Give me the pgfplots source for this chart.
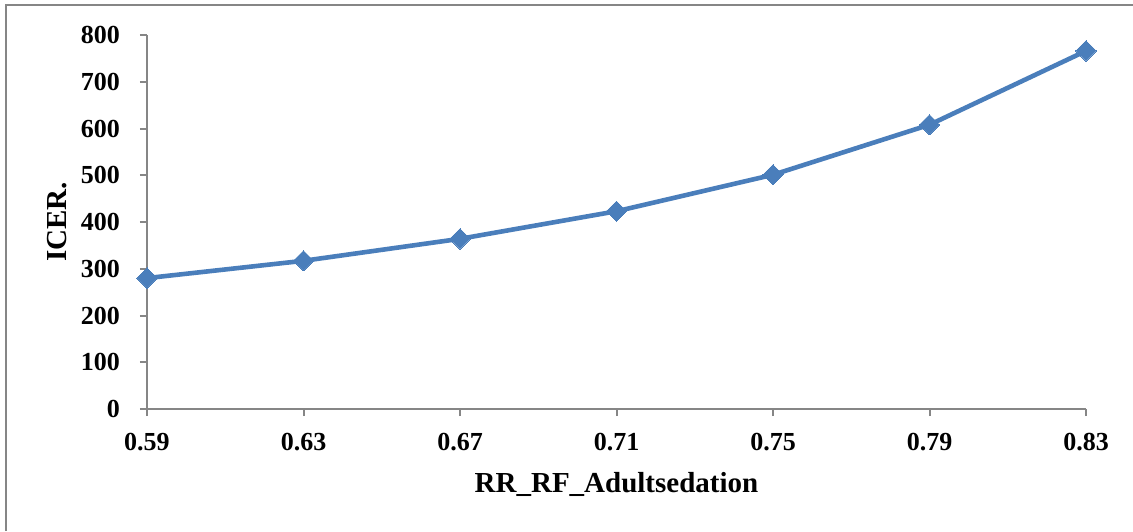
\documentclass[border=0pt]{standalone}
\usepackage{fontspec}
\setmainfont{Liberation Serif}
\usepackage{pgfplots}
\pgfplotsset{compat=1.18}
\definecolor{lineblue}{RGB}{74,126,187}
\definecolor{axgray}{RGB}{134,134,134}
\begin{document}
\begin{tikzpicture}
\path[use as bounding box] (-73.5pt,-61pt) rectangle (493pt,204.5pt);
\fill[white] (-73.5pt,-61pt) rectangle (493pt,204.5pt);
\draw[axgray, line width=1pt] (-70.25pt,-61pt) -- (-70.25pt,201.75pt) -- (493pt,201.75pt);
\begin{axis}[
  at={(0pt,0pt)}, anchor=origin,
  scale only axis,
  width=469.5pt, height=187pt,
  xmin=0.59, xmax=0.83,
  ymin=0, ymax=800,
  xtick={0.59,0.63,0.67,0.71,0.75,0.79,0.83},
  xticklabels={0.59,0.63,0.67,0.71,0.75,0.79,0.83},
  ytick={0,100,200,300,400,500,600,700,800},
  axis x line*=bottom, axis y line*=left,
  axis line style={draw=axgray, line width=1pt, -},
  tick style={draw=axgray, line width=1pt},
  tick align=outside,
  major tick length=3.5pt,
  /pgf/number format/assume math mode=true,
  ticklabel style={font=\fontsize{13}{15}\selectfont\bfseries},
  yticklabel style={xshift=-6.5pt},
  xticklabel style={yshift=-5pt},
  label style={font=\fontsize{14.5}{17}\selectfont\bfseries},
  xlabel={RR\_RF\_Adultsedation},
  ylabel={ICER.},
  xlabel style={at={(axis description cs:0.5,-0.203)}, anchor=center},
  ylabel style={at={(axis description cs:-0.0958,0.5)}, anchor=center, rotate=0},
  clip=false,
]
\addplot[color=lineblue, line width=2.3pt, mark=square*, mark size=3.6pt, mark options={rotate=45, fill=lineblue, draw=lineblue, line width=0pt}]
  coordinates {
  (0.59,280)
  (0.63,317)
  (0.67,364)
  (0.71,423)
  (0.75,501)
  (0.79,608)
  (0.83,766)
  };
\end{axis}
\end{tikzpicture}
\end{document}
